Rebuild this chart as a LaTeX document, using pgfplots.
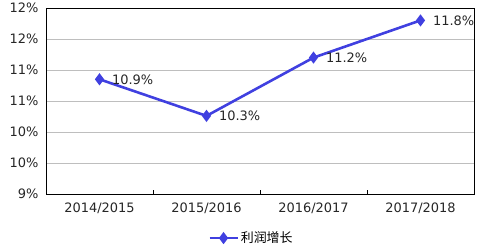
\documentclass[border=0pt]{standalone}
\usepackage{pgfplots}
\pgfplotsset{compat=1.18}
\usepackage{fontspec}
\setmainfont{DejaVu Sans}
\newfontfamily\cjk{Noto Sans CJK SC}
\definecolor{lineblue}{RGB}{64,64,224}
\definecolor{gridgray}{RGB}{190,190,190}
\begin{document}
\begin{tikzpicture}
\path[use as bounding box] (0,0) rectangle (482bp,249bp);
\begin{axis}[
  at={(46bp,55bp)}, anchor=south west,
  width=428bp, height=186bp, scale only axis,
  xmin=-0.5, xmax=3.5, ymin=9, ymax=12,
  xtick={0,1,2,3},
  xticklabels={2014/2015,2015/2016,2016/2017,2017/2018},
  ytick={9,9.5,10,10.5,11,11.5,12},
  yticklabels={9\%,10\%,10\%,11\%,11\%,12\%,12\%},
  major tick length=0pt,
  extra x ticks={0.5,1.5,2.5},
  extra x tick labels={},
  extra x tick style={major tick length=4bp, tick align=inside, xtick pos=lower, tick style={black, line width=0.8pt}},
  ymajorgrids, grid style={gridgray, line width=0.8pt},
  axis line style={black, line width=0.9pt},
  tick label style={font=\fontsize{13}{15}\selectfont, text=black!85},
  xticklabel style={yshift=-5bp},
  yticklabel style={xshift=-4bp},
  legend style={at={(axis description cs:0.48,-0.237)}, anchor=center, draw=none, fill=none,
    font=\fontsize{13}{15}\selectfont\cjk, legend columns=1},
  legend image code/.code={\draw[mark repeat=2,mark phase=2,#1] plot coordinates {(0bp,0bp) (14bp,0bp) (28bp,0bp)};},
  legend cell align=left,
  clip=false,
]
\addplot[color=lineblue, line width=2.6pt, mark=diamond*, mark size=4pt, mark options={solid, fill=lineblue},
  point meta=explicit symbolic,
  nodes near coords, nodes near coords style={anchor=west, xshift=8bp, font=\fontsize{13}{15}\selectfont, text=black!85}]
  coordinates {(0,10.85)[10.9\%] (1,10.26)[10.3\%] (2,11.2)[11.2\%] (3,11.8)[11.8\%]};
\addlegendentry{利润增长}
\end{axis}
\end{tikzpicture}
\end{document}
